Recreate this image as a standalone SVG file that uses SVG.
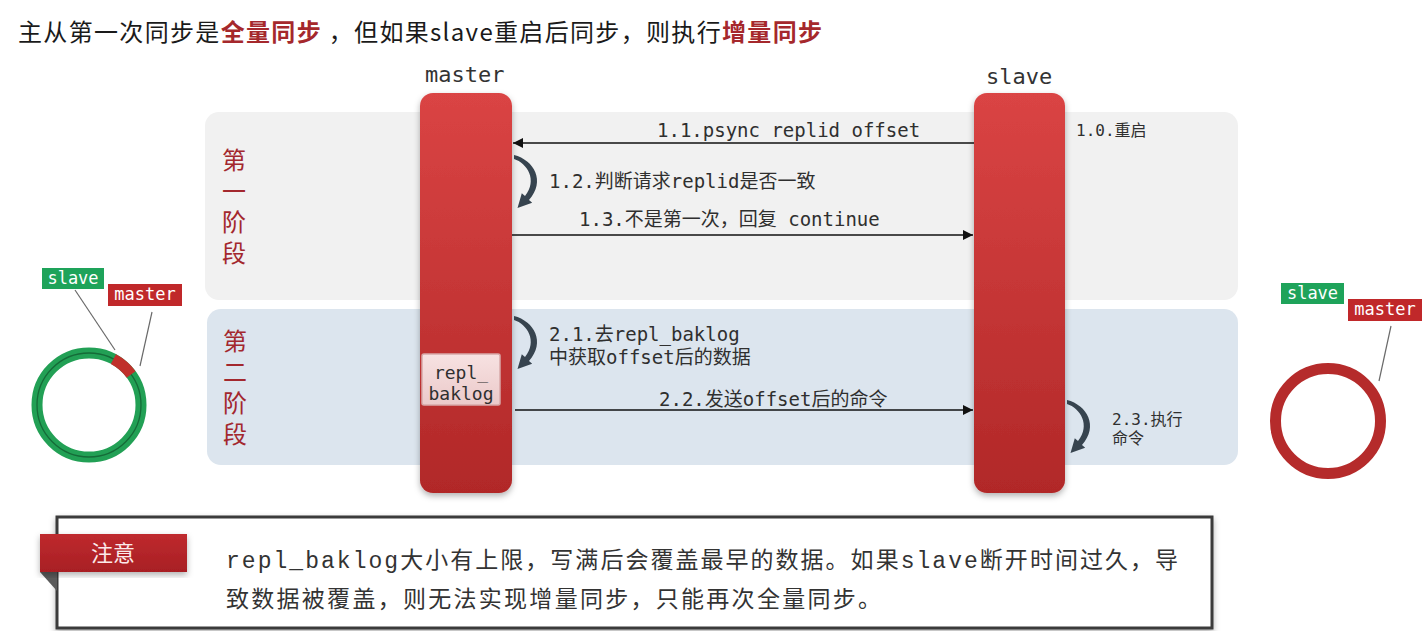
<svg xmlns="http://www.w3.org/2000/svg" width="1426" height="631" viewBox="0 0 1426 631">
  <defs>
    <linearGradient id="barGrad" x1="0" y1="0" x2="0" y2="1">
      <stop offset="0" stop-color="#da4444"/>
      <stop offset="1" stop-color="#b12828"/>
    </linearGradient>
    <linearGradient id="logGrad" x1="0" y1="0" x2="0" y2="1">
      <stop offset="0" stop-color="#f7e2e2"/>
      <stop offset="1" stop-color="#ebc9c9"/>
    </linearGradient>
    <linearGradient id="ribbonGrad" x1="0" y1="0" x2="0" y2="1">
      <stop offset="0" stop-color="#bf2a2e"/>
      <stop offset="1" stop-color="#a81f24"/>
    </linearGradient>
    <filter id="shadow" x="-20%" y="-10%" width="140%" height="125%">
      <feDropShadow dx="0" dy="3" stdDeviation="3" flood-color="#000" flood-opacity="0.3"/>
    </filter>
    <marker id="arrow" viewBox="0 0 10 10" refX="10" refY="5" markerWidth="10" markerHeight="10" markerUnits="userSpaceOnUse" orient="auto">
      <path d="M0,0 L10,5 L0,10 Z" fill="#111"/>
    </marker>
    <!-- curved self-call arrow, drawn from its top tip -->
    <path id="selfLoop" d="M0,0 C20,5 32,26 15,45 L18.2,47.7 L3.5,53 L7.8,38.3 L11,41 C24,25 13,8 0,4 Z" fill="#37444f"/>
    <style>
      .title { font-family: "Noto Sans CJK SC", "Noto Sans", sans-serif; font-size: 24px; fill: #1a1a1a; }
      .hl { fill: #a5282c; font-weight: bold; }
      .mono { font-family: "DejaVu Sans Mono", "Noto Sans CJK SC", monospace; fill: #2f2f2f; }
      .step { font-size: 19px; }
      .small { font-size: 16px; }
      .role { font-size: 22px; fill: #333; }
      .phase { font-family: "Noto Sans CJK SC", sans-serif; font-size: 24px; fill: #a3282e; writing-mode: vertical-rl; letter-spacing: 7px; }
      .tag { font-family: "DejaVu Sans Mono", monospace; font-size: 17px; fill: #fff; text-anchor: middle; }
      .lead { stroke: #6a6a6a; stroke-width: 1.2; fill: none; }
      .msg { stroke: #111; stroke-width: 1.4; fill: none; marker-end: url(#arrow); }
      .note { font-family: "Liberation Mono", "Noto Sans CJK SC", monospace; font-size: 23px; fill: #333; }
    </style>
  </defs>

  <rect width="1426" height="631" fill="#ffffff"/>

  <!-- heading -->
  <text class="title" x="18" y="41" textLength="804" lengthAdjust="spacing">主从第一次同步是<tspan class="hl">全量同步</tspan> ，但如果slave重启后同步，则执行<tspan class="hl">增量同步</tspan></text>

  <!-- phase panels -->
  <g id="phase1">
    <rect x="205" y="112" width="1033" height="188" rx="14" fill="#f1f1f1"/>
    <text class="phase" x="234" y="148">第一阶段</text>
  </g>
  <g id="phase2">
    <rect x="207" y="309" width="1031" height="156" rx="14" fill="#dce5ee"/>
    <text class="phase" x="235" y="329">第二阶段</text>
  </g>

  <!-- lifelines -->
  <g id="master">
    <text class="mono role" x="425" y="82">master</text>
    <rect x="420" y="93" width="92" height="400" rx="13" fill="url(#barGrad)" filter="url(#shadow)"/>
  </g>
  <g id="slave">
    <text class="mono role" x="986" y="84">slave</text>
    <rect x="974" y="93" width="91" height="400" rx="13" fill="url(#barGrad)" filter="url(#shadow)"/>
  </g>

  <g id="repl_baklog">
    <rect x="422" y="354" width="78" height="51" rx="2" fill="url(#logGrad)" stroke="#d8a9a9" stroke-width="1.5"/>
    <text class="mono" font-size="18" x="461" y="379" text-anchor="middle">repl_</text>
    <text class="mono" font-size="18" x="461" y="400" text-anchor="middle">baklog</text>
  </g>

  <!-- messages -->
  <g id="connectors">
    <line class="msg" x1="974" y1="143" x2="513" y2="143"/>
    <line class="msg" x1="512" y1="235" x2="973" y2="235"/>
    <line class="msg" x1="515" y1="410" x2="973" y2="410"/>
    <use href="#selfLoop" x="514" y="155"/>
    <use href="#selfLoop" x="514" y="316"/>
    <use href="#selfLoop" x="1067" y="400"/>
  </g>

  <g id="labels">
    <text class="mono small" x="1076" y="136">1.0.重启</text>
    <text class="mono step" x="657" y="137">1.1.psync replid offset</text>
    <text class="mono step" x="549" y="188">1.2.判断请求replid是否一致</text>
    <text class="mono step" x="579" y="226">1.3.不是第一次，回复 continue</text>
    <text class="mono step" x="549" y="341">2.1.去repl_baklog</text>
    <text class="mono step" x="549" y="364">中获取offset后的数据</text>
    <text class="mono step" x="659" y="406">2.2.发送offset后的命令</text>
    <text class="mono small" x="1112" y="425">2.3.执行</text>
    <text class="mono small" x="1112" y="444">命令</text>
  </g>

  <!-- offset ring, first sync: slave far behind master -->
  <g id="ringLeft">
    <circle cx="89" cy="405" r="52" fill="none" stroke="#22a055" stroke-width="11"/>
    <circle cx="89" cy="405" r="52" fill="none" stroke="#156b38" stroke-width="1.3"/>
    <path d="M113.4,359.1 A52,52 0 0 1 131.1,374.4" fill="none" stroke="#c0302b" stroke-width="11"/>
    <line class="lead" x1="75" y1="290" x2="115" y2="350"/>
    <line class="lead" x1="152" y1="312" x2="140" y2="366"/>
    <rect x="42" y="268" width="62" height="21" fill="#1ea35a"/>
    <text class="tag" x="73" y="284">slave</text>
    <rect x="108" y="284" width="74" height="22" fill="#c0282a"/>
    <text class="tag" x="145" y="300">master</text>
  </g>

  <!-- offset ring, after restart: slave caught up -->
  <g id="ringRight">
    <circle cx="1328" cy="421" r="52.5" fill="none" stroke="#b52b2b" stroke-width="11"/>
    <line class="lead" x1="1391" y1="326" x2="1379" y2="381"/>
    <rect x="1281" y="283" width="63" height="21" fill="#1ea35a"/>
    <text class="tag" x="1312.5" y="299">slave</text>
    <rect x="1348" y="299" width="74" height="22" fill="#c0282a"/>
    <text class="tag" x="1385" y="315">master</text>
  </g>

  <!-- note -->
  <g id="notice">
    <rect x="57" y="517" width="1155" height="111" fill="#fff" stroke="#3a3a3a" stroke-width="3" filter="url(#shadow)"/>
    <polygon points="40,572 57,572 57,591" fill="#5a5a5a"/>
    <rect x="40" y="534" width="147" height="38" fill="url(#ribbonGrad)" filter="url(#shadow)"/>
    <text x="113" y="561" text-anchor="middle" font-family="Noto Sans CJK SC, sans-serif" font-size="22" fill="#fbeaea">注意</text>
    <text class="note" x="226" y="568" textLength="952" lengthAdjust="spacing">repl_baklog大小有上限，写满后会覆盖最早的数据。如果slave断开时间过久，导</text>
    <text class="note" x="226" y="607" textLength="655" lengthAdjust="spacing">致数据被覆盖，则无法实现增量同步，只能再次全量同步。</text>
  </g>
</svg>
